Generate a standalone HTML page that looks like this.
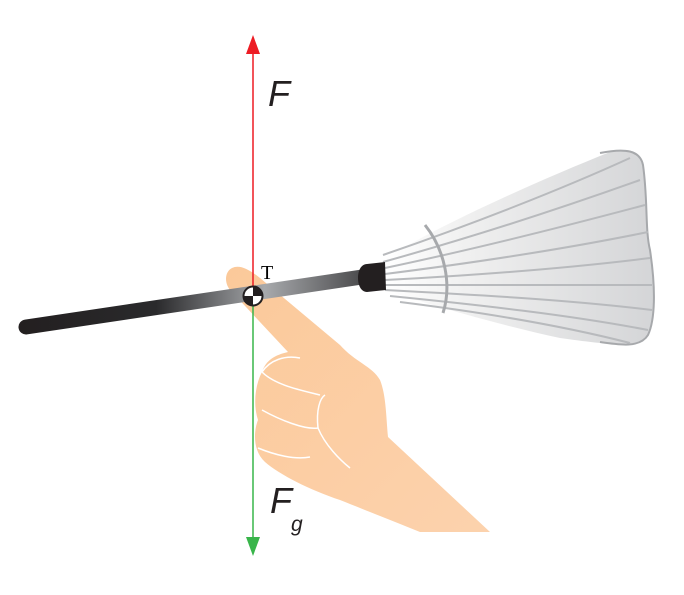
<!DOCTYPE html>
<html><head><meta charset="utf-8"><style>html,body{margin:0;padding:0;background:#fff}svg{display:block}</style></head>
<body>
<svg width="684" height="595" viewBox="0 0 684 595" xmlns="http://www.w3.org/2000/svg">
<defs>
<linearGradient id="sh" x1="0" y1="0" x2="1" y2="0">
<stop offset="0" stop-color="#fff"/><stop offset="0.3" stop-color="#f0f0f0"/><stop offset="1" stop-color="#d4d5d7"/>
</linearGradient>
<linearGradient id="st" gradientUnits="userSpaceOnUse" x1="20" y1="0" x2="360" y2="0">
<stop offset="0" stop-color="#231f20"/><stop offset="0.4" stop-color="#2a2a2c"/><stop offset="0.72" stop-color="#a7a9ac"/><stop offset="1" stop-color="#4d4d4f"/>
</linearGradient>
<linearGradient id="hd" x1="0" y1="0" x2="1" y2="1">
<stop offset="0" stop-color="#fbc99a"/><stop offset="1" stop-color="#fcd2ad"/>
</linearGradient>
</defs>
<!-- shuttle feathers -->
<path d="M385,258 C450,220 540,180 610,152 C630,148 640,150 643,165 C648,200 645,230 650,250 C656,290 655,320 648,335 C640,348 610,345 560,338 C500,325 430,305 385,290 Z" fill="url(#sh)"/>
<path d="M600,153 C625,148 640,150 643,165 C648,200 645,230 650,250 C656,290 655,320 648,335 C640,348 620,345 600,342" fill="none" stroke="#a7a9ac" stroke-width="2"/>
<g fill="none" stroke="#b8babd" stroke-width="2">
<path d="M383,255 C470,225 560,190 630,158"/>
<path d="M383,262 C480,235 570,205 640,180"/>
<path d="M385,268 C480,248 570,225 645,205"/>
<path d="M385,274 C480,262 570,248 648,232"/>
<path d="M385,280 C480,275 570,268 650,258"/>
<path d="M385,285 C480,285 570,285 652,285"/>
<path d="M385,290 C480,295 570,300 652,310"/>
<path d="M390,296 C480,305 570,315 648,330"/>
<path d="M400,302 C480,312 560,325 630,343"/>
<path d="M425,225 C445,250 452,285 443,313" stroke="#a7a9ac" stroke-width="3"/>
</g>
<!-- hand with finger -->
<path d="M232,268 C240,264 250,270 260,278 L340,345 C355,362 372,366 380,380 C386,395 386,415 388,437 L490,532 L420,532 C390,520 360,508 340,500 C310,490 280,475 265,462 C252,450 254,430 258,420 C253,405 255,385 262,372 C266,360 275,355 288,352 L232,292 C224,285 224,272 232,268 Z" fill="url(#hd)"/>
<g fill="none" stroke="#fff" stroke-width="1.5">
<path d="M262,372 C275,385 300,390 320,395"/>
<path d="M262,410 C280,420 305,430 318,428 C325,445 340,460 350,468"/>
<path d="M258,448 C275,455 295,460 310,457"/>
<path d="M318,428 C316,410 320,398 325,395"/>
<path d="M262,372 C270,360 285,355 300,358"/>
</g>
<!-- stick -->
<line x1="26" y1="327" x2="362" y2="277" stroke="url(#st)" stroke-width="15" stroke-linecap="round"/>
<path d="M367,264 L385,262 L386,290 L367,292 C355,292 355,264 367,264 Z" fill="#231f20"/>
<!-- force line -->
<line x1="253" y1="52" x2="253" y2="296" stroke="#ed1c24" stroke-width="1.5"/>
<polygon points="253,35 246,54 260,54" fill="#ed1c24"/>
<line x1="253" y1="296" x2="253" y2="540" stroke="#39b54a" stroke-width="1.5"/>
<polygon points="253,556 246,537 260,537" fill="#39b54a"/>
<!-- center marker -->
<circle cx="253" cy="296" r="9.5" fill="#fff" stroke="#231f20" stroke-width="2"/>
<path d="M253,296 L253,286.5 A9.5,9.5 0 0 1 262.5,296 Z" fill="#231f20"/>
<path d="M253,296 L243.5,296 A9.5,9.5 0 0 0 253,305.5 Z" fill="#231f20"/>
<text x="261" y="279" font-family="Liberation Serif, serif" font-size="20" fill="#000">T</text>
<text x="268" y="106" font-family="Liberation Sans, sans-serif" font-style="italic" font-size="36" fill="#231f20">F</text>
<text x="270" y="513" font-family="Liberation Sans, sans-serif" font-style="italic" font-size="36" fill="#231f20">F</text>
<text x="291" y="531" font-family="Liberation Sans, sans-serif" font-style="italic" font-size="21" fill="#231f20">g</text>
</svg>
</body></html>
